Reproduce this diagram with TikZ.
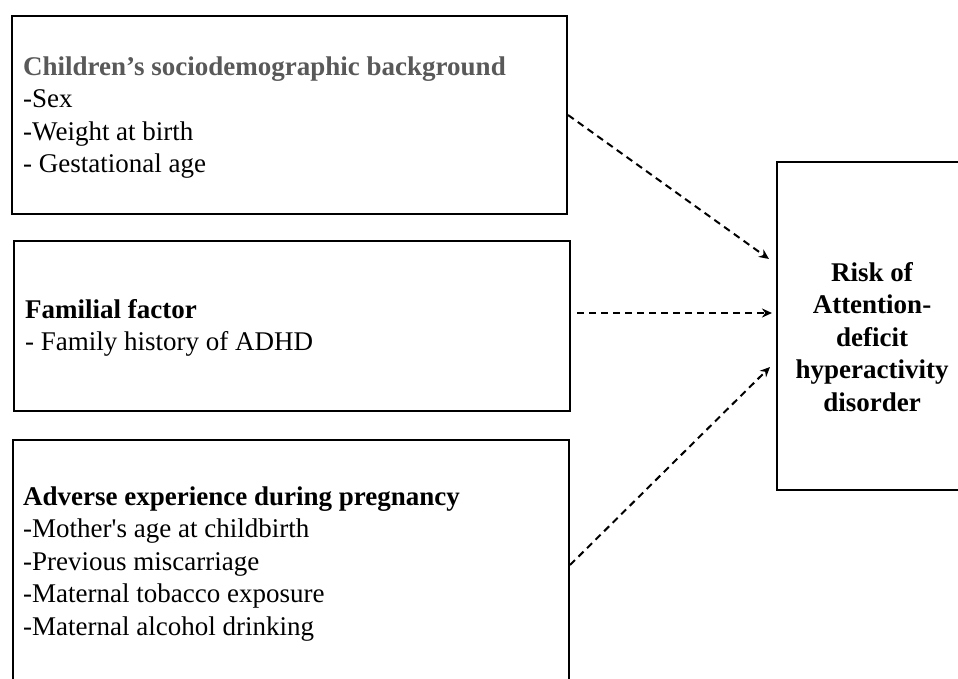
\documentclass[tikz,border=0pt]{standalone}
\usepackage{fontspec}
\setmainfont{Liberation Serif}
\usetikzlibrary{arrows.meta,calc}
\definecolor{titlegray}{RGB}{89,89,89}
\begin{document}
\begin{tikzpicture}[x=1pt,y=-1pt,
  box/.style={draw=black, line width=2pt, anchor=north west, inner sep=0pt},
  txt/.style={anchor=base west, align=left, inner sep=0pt, font=\fontsize{27}{32.5}\selectfont},
  rtxt/.style={anchor=base, align=center, inner sep=0pt, font=\fontsize{27}{32.5}\selectfont\bfseries},
  link/.style={line width=2pt, dash pattern=on 7pt off 5pt, -{Stealth[length=10pt,width=9pt]}}]
\useasboundingbox (0,0) rectangle (958,679);
\clip (0,0) rectangle (958,679);
\fill[white] (0,0) rectangle (958,679);
% boxes
\node[box, minimum width=555pt, minimum height=198pt] (b1) at (11,15) {};
\node[box, minimum width=556pt, minimum height=170pt] (b2) at (13,240) {};
\node[box, minimum width=556pt, minimum height=260pt] (b3) at (12,439) {};
\node[box, minimum width=250pt, minimum height=328pt] (b4) at (776,161) {};
% texts (anchored at the baseline of their last line)
\node[txt] (t1) at (23,173) {\textcolor{titlegray}{\bfseries Children’s sociodemographic background}\\-Sex\\-Weight at birth\\- Gestational age};
\node[txt] (t2) at (25,350.5) {\bfseries Familial factor\\- Family history of ADHD};
\node[txt] (t3) at (23,635) {\bfseries Adverse experience during pregnancy\\-Mother\textquotesingle s age at childbirth\\-Previous miscarriage\\-Maternal tobacco exposure\\-Maternal alcohol drinking};
\node[rtxt] (t4) at (872,411) {Risk of\\Attention-\\deficit\\hyperactivity\\disorder};
% connector ends
\coordinate (a1s) at (b1.east);
\coordinate (a1e) at ($(b4.west)+(-7,-67)$);
\coordinate (a2s) at ($(b2.east)+(6,-13)$);
\coordinate (a2e) at ($(b4.west)+(-4,-13)$);
\coordinate (a3s) at ($(b3.north east)+(0,126)$);
\coordinate (a3e) at ($(b4.west)+(-6,41)$);
\draw[link] (a1s) -- (a1e);
\draw[link] (a2s) -- (a2e);
\draw[link] (a3s) -- (a3e);
\end{tikzpicture}
\end{document}
